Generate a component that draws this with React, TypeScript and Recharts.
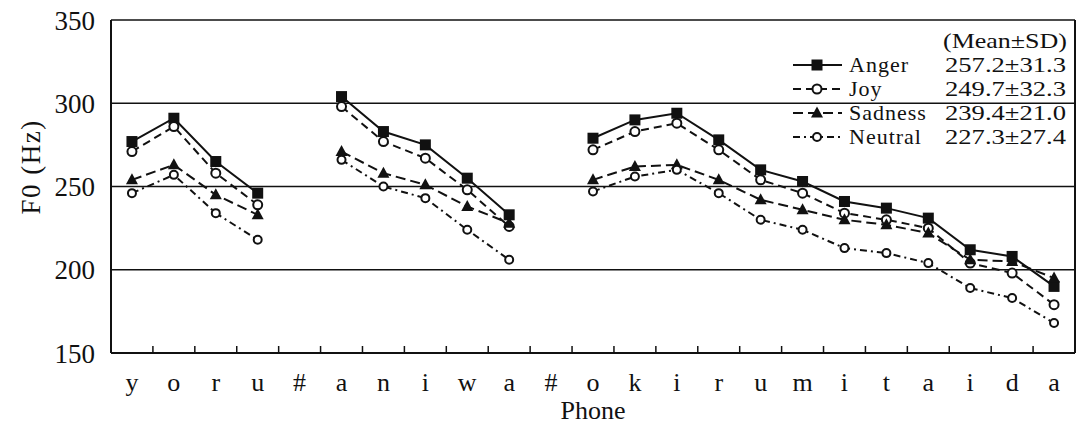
import { LineChart, Line, XAxis, YAxis, CartesianGrid, ReferenceLine } from "recharts";

const phones = ["y", "o", "r", "u", "#", "a", "n", "i", "w", "a", "#", "o", "k", "i", "r", "u", "m", "i", "t", "a", "i", "d", "a"];

const anger = [277, 291, 265, 246, null, 304, 283, 275, 255, 233, null, 279, 290, 294, 278, 260, 253, 241, 237, 231, 212, 208, 190];
const joy = [271, 286, 258, 239, null, 298, 277, 267, 248, 226, null, 272, 283, 288, 272, 254, 246, 234, 230, 225, 204, 198, 179];
const sadness = [254, 263, 245, 233, null, 271, 258, 251, 238, 228, null, 254, 262, 263, 254, 242, 236, 230, 227, 222, 206, 205, 195];
const neutral = [246, 257, 234, 218, null, 266, 250, 243, 224, 206, null, 247, 256, 260, 246, 230, 224, 213, 210, 204, 189, 183, 168];

const emotions = ["Anger", "Joy", "Sadness", "Neutral"];
const means = ["257.2", "249.7", "239.4", "227.3"];
const sds = ["31.3", "32.3", "21.0", "27.4"];

const yTicks = [150, 200, 250, 300, 350];

const data = phones.map((p, i) => ({
  x: i + 0.5,
  phone: p,
  anger: anger[i],
  joy: joy[i],
  sadness: sadness[i],
  neutral: neutral[i],
}));

// label ticks at centres, short inward marks at the boundaries
const xTicks: number[] = [];
for (let i = 0; i < phones.length; i++) {
  xTicks.push(i + 0.5);
  if (i < phones.length - 1) xTicks.push(i + 1);
}

const FONT = "'Liberation Serif', 'Times New Roman', serif";
const INK = "#111";

const dashes = ["", "8 5", "10 5", "7 4 2 4"];

function Marker({ kind, cx, cy }: { kind: number; cx: number; cy: number }) {
  if (kind === 0) return <rect x={cx - 5.5} y={cy - 5.5} width={11} height={11} fill={INK} />;
  if (kind === 2)
    return <polygon points={`${cx},${cy - 6.5} ${cx + 6},${cy + 4.5} ${cx - 6},${cy + 4.5}`} fill={INK} />;
  return <circle cx={cx} cy={cy} r={kind === 1 ? 4.5 : 4} fill="#fff" stroke={INK} strokeWidth={2} />;
}

const dotFor = (kind: number) => (props: any) => {
  const { cx, cy, value, index } = props;
  if (value == null || cy == null || isNaN(cy)) return <g key={`d${kind}-${index}`} />;
  return (
    <g key={`d${kind}-${index}`}>
      <Marker kind={kind} cx={cx} cy={cy} />
    </g>
  );
};

function PhoneTick(props: any) {
  const { x, y, payload } = props;
  const v = payload.value as number;
  if (Number.isInteger(v)) {
    return <line x1={x} x2={x} y1={y} y2={y - 7} stroke={INK} strokeWidth={1.5} />;
  }
  return (
    <text x={x} y={y + 38} textAnchor="middle" fontSize={26} style={{ fontFamily: FONT }} fill={INK}>
      {phones[Math.floor(v)]}
    </text>
  );
}

function XTitle({ viewBox }: any) {
  return (
    <text x={viewBox.x + viewBox.width / 2} y={viewBox.y + 66} textAnchor="middle" fontSize={26} style={{ fontFamily: FONT }} fill={INK}>
      Phone
    </text>
  );
}

function YTitle() {
  return (
    <text x={40} y={167} transform="rotate(-90 40 167)" textAnchor="middle" fontSize={27} letterSpacing={1.5} style={{ fontFamily: FONT }} fill={INK}>
      F0 (Hz)
    </text>
  );
}

function StatLegend() {
  return (
    <svg width={290} height={130} style={{ display: "block" }}>
      <text x={153} y={20} fontSize={22} textLength={124} lengthAdjust="spacingAndGlyphs" style={{ fontFamily: FONT }} fill={INK}>
        (Mean±SD)
      </text>
      {emotions.map((e, i) => {
        const cy = 37 + i * 24;
        return (
          <g key={e}>
            <line x1={3} x2={52} y1={cy} y2={cy} stroke={INK} strokeWidth={2} strokeDasharray={dashes[i] || undefined} />
            <Marker kind={i} cx={27} cy={cy} />
            <text x={59} y={cy + 7} fontSize={22} letterSpacing={1} style={{ fontFamily: FONT }} fill={INK}>
              {e}
            </text>
            <text x={155} y={cy + 7} fontSize={22} textLength={121} lengthAdjust="spacingAndGlyphs" style={{ fontFamily: FONT }} fill={INK}>
              {means[i]}±{sds[i]}
            </text>
          </g>
        );
      })}
    </svg>
  );
}

export default function App() {
  return (
    <div style={{ position: "absolute", left: 0, top: 0, background: "#fff" }}>
      <LineChart width={1081} height={425} data={data} margin={{ top: 20, right: 6, bottom: 0, left: 0 }}>
        <CartesianGrid vertical={false} stroke={INK} strokeWidth={1.6} />
        <XAxis
          dataKey="x"
          type="number"
          domain={[0, 23]}
          ticks={xTicks}
          interval={0}
          height={72}
          tickSize={0}
          tickMargin={0}
          tickLine={false}
          tick={<PhoneTick />}
          axisLine={{ stroke: INK, strokeWidth: 2 }}
          label={<XTitle />}
        />
        <YAxis
          domain={[150, 350]}
          ticks={yTicks}
          width={111}
          tickLine={false}
          tickMargin={10}
          axisLine={{ stroke: INK, strokeWidth: 2 }}
          tick={{ fill: INK, fontSize: 27, fontFamily: FONT }}
          label={<YTitle />}
        />
        <ReferenceLine x={23} stroke={INK} strokeWidth={2} />
        <Line dataKey="anger" stroke={INK} strokeWidth={2} dot={dotFor(0)} isAnimationActive={false} />
        <Line dataKey="joy" stroke={INK} strokeWidth={2} strokeDasharray={dashes[1]} dot={dotFor(1)} isAnimationActive={false} />
        <Line dataKey="sadness" stroke={INK} strokeWidth={2} strokeDasharray={dashes[2]} dot={dotFor(2)} isAnimationActive={false} />
        <Line dataKey="neutral" stroke={INK} strokeWidth={2} strokeDasharray={dashes[3]} dot={dotFor(3)} isAnimationActive={false} />
      </LineChart>
      <div style={{ position: "absolute", top: 28, left: 790 }}>
        <StatLegend />
      </div>
    </div>
  );
}
